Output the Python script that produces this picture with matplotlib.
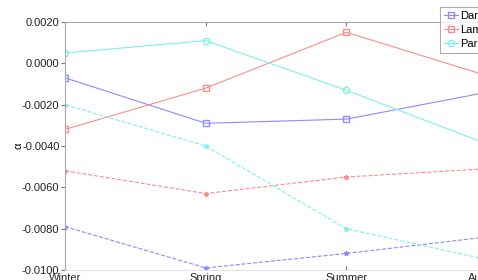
import matplotlib
matplotlib.use('Agg')
import matplotlib.pyplot as plt
import numpy as np

seasons = ['Winter', 'Spring', 'Summer', 'Autumn']
sites = ['Darwin', 'Lambton', 'Parkes']

# solid lines (legend entries)
darwin_a = [-0.0007, -0.0029, -0.0027, -0.0014]
lambton_a = [-0.0032, -0.0012, 0.0015, -0.0006]
parkes_a = [0.0005, 0.0011, -0.0013, -0.0039]
# dashed lines
darwin_b = [-0.0079, -0.0099, -0.0092, -0.0084]
lambton_b = [-0.0052, -0.0063, -0.0055, -0.0051]
parkes_b = [-0.0020, -0.0040, -0.0080, -0.0095]

colors = ['#8c8cff', '#ff8c8c', '#7ff0ea']

plt.rcParams['font.family'] = ['Liberation Sans', 'DejaVu Sans']
fig = plt.figure(figsize=(4.78, 2.8), dpi=100)
ax = fig.add_axes([65/478, 10/280, (487-65)/478, 248/280])

x = np.arange(1, 5)
ax.plot(x, darwin_a, '-s', color=colors[0], lw=0.8, ms=4.5, mfc='none', label=sites[0])
ax.plot(x, lambton_a, '-s', color=colors[1], lw=0.8, ms=4.5, mfc='none', label=sites[1])
ax.plot(x, parkes_a, '-o', color=colors[2], lw=0.8, ms=4.5, mfc='none', label=sites[2])
ax.plot(x, darwin_b, '--*', color=colors[0], lw=0.8, ms=3.5)
ax.plot(x, lambton_b, '--*', color=colors[1], lw=0.8, ms=3.5)
ax.plot(x, parkes_b, '--*', color=colors[2], lw=0.8, ms=3.5)

ax.set_xlim(1, 4)
ax.set_ylim(-0.010, 0.002)
ax.set_xticks(x)
ax.set_xticklabels(seasons, fontsize=8)
ax.set_yticks(np.arange(-0.010, 0.0021, 0.002))
ax.set_yticklabels(['%.4f' % v for v in np.arange(-0.010, 0.0021, 0.002)], fontsize=8)
ax.set_ylabel('α', fontsize=8, labelpad=-1)
ax.tick_params(axis='x', direction='in', top=True, length=3, pad=2.5, colors='#777777', labelcolor='#222222')
ax.tick_params(axis='y', direction='out', length=3, pad=1, colors='#777777', labelcolor='#222222')
for s in ['top', 'left']:
    ax.spines[s].set_color('#aaaaaa')
ax.spines['bottom'].set_color('#e4e4e4')
ax.spines['right'].set_color('#aaaaaa')

leg = ax.legend(loc='upper left', bbox_to_anchor=(440/478, 1 - 7/280), bbox_transform=fig.transFigure,
                fontsize=8, frameon=True, fancybox=False, borderpad=0.35, labelspacing=0.35,
                handlelength=1.3, handletextpad=0.2, borderaxespad=0)
leg.get_frame().set_edgecolor('#999999')
leg.get_frame().set_linewidth(0.8)

fig.savefig('out.png', dpi=100)
